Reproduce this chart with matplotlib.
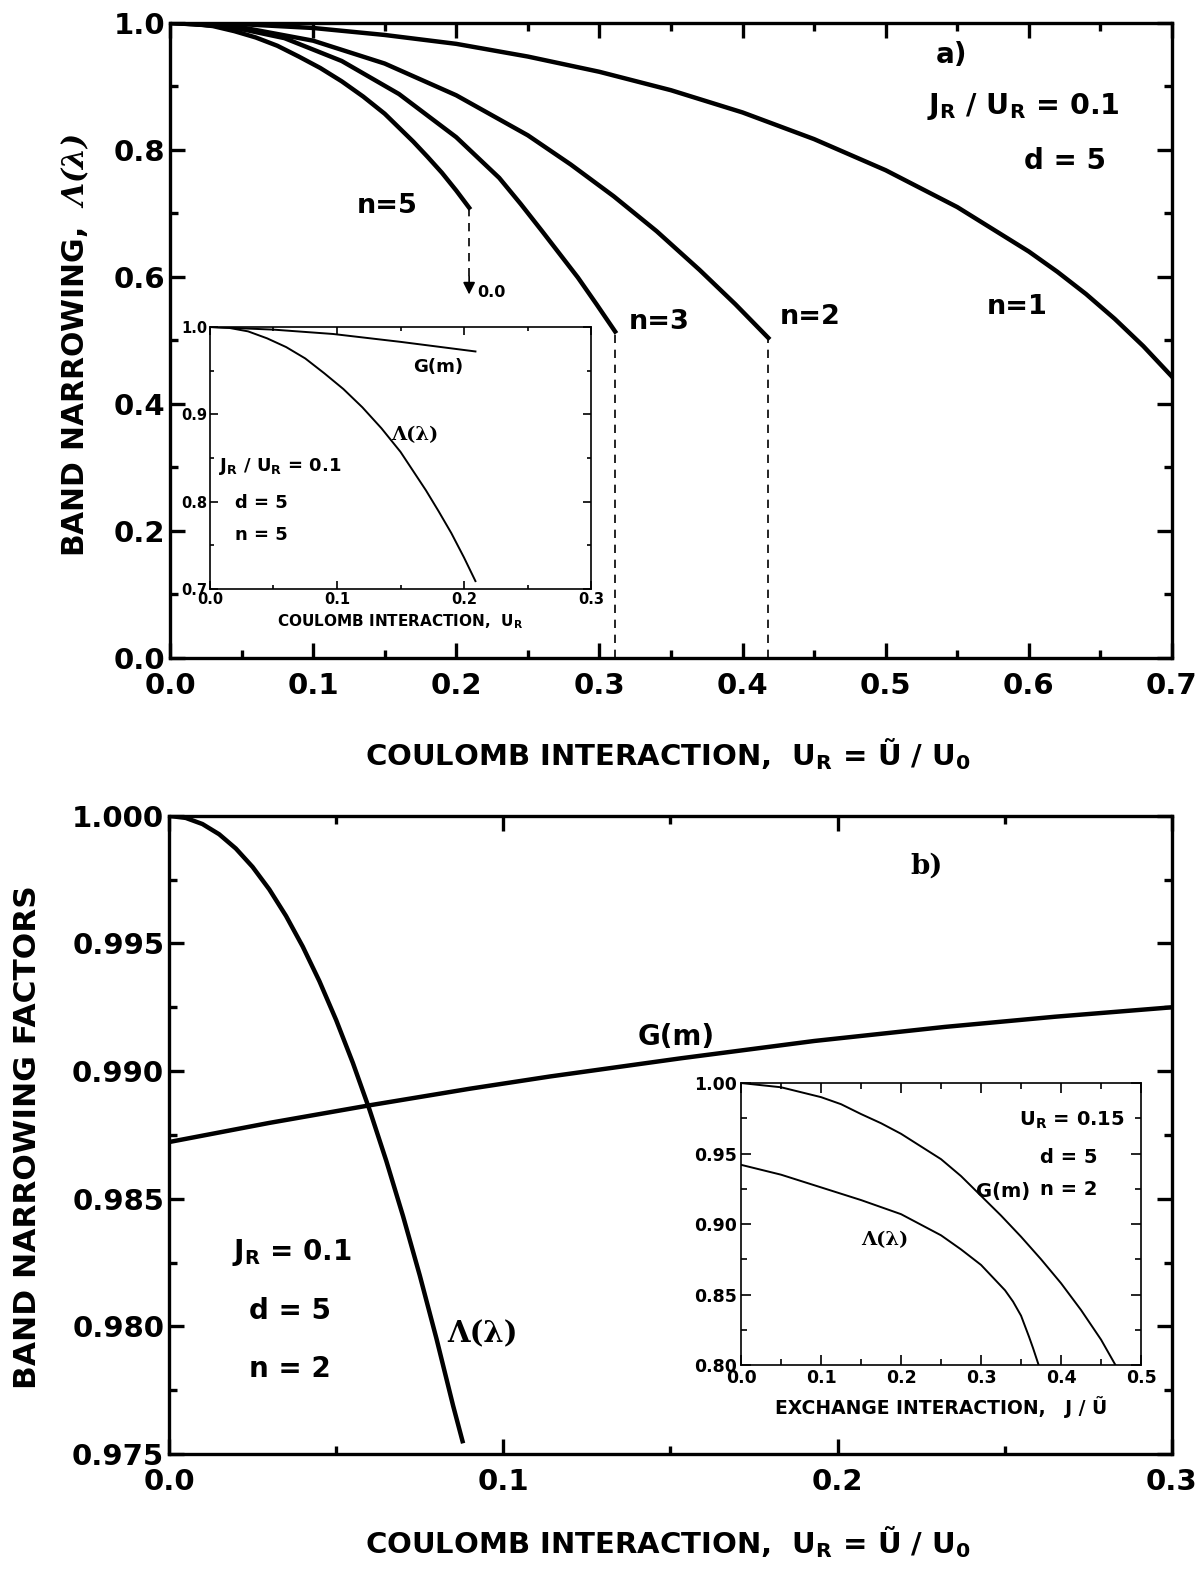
import matplotlib
matplotlib.use('Agg')
import matplotlib.pyplot as plt
from matplotlib.ticker import MultipleLocator, FormatStrFormatter

# ---- panel a) band narrowing vs U_R for several n ----
u_n1 = [0, 0.05, 0.1, 0.15, 0.2, 0.25, 0.3, 0.35, 0.4, 0.45, 0.5, 0.55, 0.6, 0.62, 0.64, 0.66, 0.68, 0.70]
lam_n1 = [1.0, 0.998, 0.992, 0.981, 0.967, 0.947, 0.923, 0.894, 0.859, 0.817, 0.768, 0.710, 0.640,
          0.608, 0.573, 0.534, 0.491, 0.443]
u_n2 = [0, 0.05, 0.1, 0.15, 0.2, 0.25, 0.28, 0.31, 0.34, 0.37, 0.395, 0.418]
lam_n2 = [1.0, 0.993, 0.972, 0.936, 0.886, 0.823, 0.777, 0.727, 0.672, 0.611, 0.557, 0.504]
u_n3 = [0, 0.04, 0.08, 0.12, 0.16, 0.2, 0.23, 0.245, 0.26, 0.285, 0.298, 0.311]
lam_n3 = [1.0, 0.995, 0.976, 0.940, 0.888, 0.820, 0.756, 0.715, 0.672, 0.599, 0.557, 0.514]
u_n5 = [0, 0.015, 0.03, 0.045, 0.06, 0.075, 0.09, 0.105, 0.12, 0.135, 0.15, 0.16, 0.17, 0.18,
        0.19, 0.20, 0.209]
lam_n5 = [1.0, 0.999, 0.995, 0.987, 0.977, 0.964, 0.947, 0.929, 0.908, 0.884, 0.857, 0.835, 0.813,
          0.789, 0.764, 0.736, 0.709]

# inset a): n = 5
u_ins_a = [0, 0.05, 0.097, 0.15, 0.209]
g_ins_a = [1.0, 0.997, 0.992, 0.983, 0.972]

# ---- panel b) narrowing factors, n = 2 ----
u_lam_b = [0, 0.005, 0.01, 0.015, 0.02, 0.025, 0.03, 0.035, 0.04, 0.045, 0.05, 0.055, 0.06,
           0.065, 0.07, 0.075, 0.08, 0.085, 0.0878]
lam_b = [1.0, 0.99992, 0.99968, 0.99928, 0.99872, 0.99800, 0.99712, 0.99608, 0.99488, 0.99352,
         0.99200, 0.99032, 0.98848, 0.98648, 0.98432, 0.98200, 0.97952, 0.97688, 0.97550]
u_g_b = [0, 0.03, 0.06, 0.09, 0.114, 0.153, 0.193, 0.232, 0.265, 0.3]
g_b = [0.98722, 0.98797, 0.98866, 0.98931, 0.98979, 0.99050, 0.99118, 0.99173, 0.99213, 0.99250]

# inset b): vs exchange J/U~
j_lam = [0, 0.05, 0.1, 0.15, 0.2, 0.25, 0.275, 0.3, 0.315, 0.33, 0.34, 0.35, 0.36, 0.365, 0.372]
lam_j = [0.942, 0.935, 0.926, 0.917, 0.907, 0.892, 0.882, 0.871, 0.862, 0.853, 0.845, 0.835,
         0.820, 0.812, 0.80]
j_g = [0, 0.05, 0.1, 0.125, 0.15, 0.175, 0.2, 0.225, 0.25, 0.275, 0.3, 0.325, 0.35, 0.375,
       0.4, 0.425, 0.45, 0.468]
g_j = [1.0, 0.997, 0.990, 0.985, 0.978, 0.9715, 0.964, 0.955, 0.946, 0.934, 0.920, 0.906, 0.891,
       0.875, 0.858, 0.839, 0.818, 0.80]

plt.rcParams['font.family'] = ['DejaVu Sans']
plt.rcParams['font.weight'] = 'bold'
plt.rcParams['axes.labelweight'] = 'bold'
plt.rcParams['mathtext.fontset'] = 'custom'
plt.rcParams['mathtext.rm'] = 'DejaVu Sans:bold'
plt.rcParams['mathtext.bf'] = 'DejaVu Sans:bold'
plt.rcParams['mathtext.it'] = 'DejaVu Sans:bold'
plt.rcParams['mathtext.sf'] = 'DejaVu Serif:italic'

SERIF = ['DejaVu Serif']


def style(ax, lw, size, maj, mino):
    for s in ax.spines.values():
        s.set_linewidth(lw)
    ax.tick_params(which='both', direction='in', top=True, right=True, width=lw, labelsize=size)
    ax.tick_params(which='major', length=maj)
    ax.tick_params(which='minor', length=mino)


fig = plt.figure(figsize=(12.02, 15.79), dpi=100)

# ---------------- panel a ----------------
ax = fig.add_axes([0.1414, 0.5833, 0.8336, 0.4022])
for u, v in [(u_n1, lam_n1), (u_n2, lam_n2), (u_n3, lam_n3), (u_n5, lam_n5)]:
    ax.plot(u, v, color='k', lw=3.2, solid_joinstyle='round')
for u, v in [(u_n2, lam_n2), (u_n3, lam_n3)]:
    ax.plot([u[-1], u[-1]], [0, v[-1]], color='k', lw=1.2, dashes=(5, 4))
ax.plot([u_n5[-1], u_n5[-1]], [lam_n5[-1], 0.60], color='k', lw=1.2, dashes=(5, 4))
ax.annotate('', xy=(u_n5[-1], 0.568), xytext=(u_n5[-1], 0.605),
            arrowprops=dict(arrowstyle='-|>', color='k', lw=1.2, mutation_scale=18))
ax.text(u_n5[-1] + 0.006, 0.575, '0.0', fontsize=11.5, va='center', ha='left')
ax.set_xlim(0, 0.7)
ax.set_ylim(0, 1.0)
ax.xaxis.set_major_locator(MultipleLocator(0.1))
ax.xaxis.set_minor_locator(MultipleLocator(0.05))
ax.yaxis.set_major_locator(MultipleLocator(0.2))
ax.yaxis.set_minor_locator(MultipleLocator(0.1))
style(ax, 2.4, 21, 11, 6)
ax.tick_params(axis='x', pad=10)

ax.text(0.546, 0.95, 'a)', fontsize=20, ha='center', va='center')
ax.text(0.596, 0.869, r'$\mathrm{J_R}$ / $\mathrm{U_R}$ = 0.1', fontsize=20.5, ha='center', va='center')
ax.text(0.625, 0.783, 'd = 5', fontsize=20, ha='center', va='center')
ax.text(0.152, 0.711, 'n=5', fontsize=19.5, ha='center', va='center')
ax.text(0.342, 0.529, 'n=3', fontsize=19.5, ha='center', va='center')
ax.text(0.4476, 0.537, 'n=2', fontsize=19.5, ha='center', va='center')
ax.text(0.592, 0.553, 'n=1', fontsize=19.5, ha='center', va='center')

fig.text(0.063, 1 - 345 / 1579, r'BAND NARROWING,  $\mathsf{\Lambda(\lambda)}$', fontsize=21.5,
         rotation=90, ha='center', va='center')
fig.text(668 / 1202, 1 - 754 / 1579, r'COULOMB INTERACTION,  $\mathrm{U_R}$ = Ũ / $\mathrm{U_0}$',
         fontsize=21, ha='center', va='center')

# inset a
axi = fig.add_axes([0.1747, 0.6270, 0.3170, 0.1659])
axi.plot(u_ins_a, g_ins_a, color='k', lw=1.4)
axi.plot(u_n5, lam_n5, color='k', lw=1.4)
axi.set_xlim(0, 0.3)
axi.set_ylim(0.7, 1.0)
axi.xaxis.set_major_locator(MultipleLocator(0.1))
axi.xaxis.set_minor_locator(MultipleLocator(0.05))
axi.yaxis.set_major_locator(MultipleLocator(0.1))
axi.yaxis.set_minor_locator(MultipleLocator(0.05))
style(axi, 1.2, 10.5, 6, 3)
axi.tick_params(pad=2)
axi.set_xlabel(r'COULOMB INTERACTION,  $\mathrm{U_R}$', fontsize=11, labelpad=4)
axi.text(0.1798, 0.9545, 'G(m)', fontsize=13, ha='center', va='center')
axi.text(0.1614, 0.8763, 'Λ(λ)', fontsize=14, ha='center', va='center', family=SERIF)
axi.text(0.0551, 0.840, r'$\mathrm{J_R}$ / $\mathrm{U_R}$ = 0.1', fontsize=13, ha='center', va='center')
axi.text(0.0407, 0.798, 'd = 5', fontsize=13, ha='center', va='center')
axi.text(0.0407, 0.762, 'n = 5', fontsize=13, ha='center', va='center')

# ---------------- panel b ----------------
bx = fig.add_axes([0.1406, 0.0792, 0.8344, 0.4041])
bx.plot(u_lam_b, lam_b, color='k', lw=3.2, solid_joinstyle='round')
bx.plot(u_g_b, g_b, color='k', lw=3.2, solid_joinstyle='round')
bx.set_xlim(0, 0.3)
bx.set_ylim(0.975, 1.0)
bx.xaxis.set_major_locator(MultipleLocator(0.1))
bx.xaxis.set_minor_locator(MultipleLocator(0.05))
bx.yaxis.set_major_locator(MultipleLocator(0.005))
bx.yaxis.set_minor_locator(MultipleLocator(0.0025))
bx.yaxis.set_major_formatter(FormatStrFormatter('%.3f'))
style(bx, 2.4, 21, 11, 6)
bx.tick_params(axis='x', pad=10)

bx.text(0.2265, 0.99804, 'b)', fontsize=20, ha='center', va='center', family=SERIF)
bx.text(0.1518, 0.99134, 'G(m)', fontsize=20, ha='center', va='center')
bx.text(0.0368, 0.98288, r'$\mathrm{J_R}$ = 0.1', fontsize=20, ha='center', va='center')
bx.text(0.0362, 0.98060, 'd = 5', fontsize=20, ha='center', va='center')
bx.text(0.0362, 0.97833, 'n = 2', fontsize=20, ha='center', va='center')
bx.text(0.0939, 0.97970, 'Λ(λ)', fontsize=21, ha='center', va='center', family=SERIF)

fig.text(0.023, 1 - 1137 / 1579, 'BAND NARROWING FACTORS', fontsize=22.5,
         rotation=90, ha='center', va='center')
fig.text(668 / 1202, 1 - 1542 / 1579, r'COULOMB INTERACTION,  $\mathrm{U_R}$ = Ũ / $\mathrm{U_0}$',
         fontsize=21, ha='center', va='center')

# inset b
bxi = fig.add_axes([0.6165, 0.1355, 0.3328, 0.1786])
bxi.plot(j_g, g_j, color='k', lw=1.4)
bxi.plot(j_lam, lam_j, color='k', lw=1.4)
bxi.set_xlim(0, 0.5)
bxi.set_ylim(0.80, 1.0)
bxi.xaxis.set_major_locator(MultipleLocator(0.1))
bxi.xaxis.set_minor_locator(MultipleLocator(0.05))
bxi.yaxis.set_major_locator(MultipleLocator(0.05))
bxi.yaxis.set_minor_locator(MultipleLocator(0.025))
bxi.yaxis.set_major_formatter(FormatStrFormatter('%.2f'))
style(bxi, 1.2, 12.5, 7, 4)
bxi.tick_params(pad=3)
bxi.set_xlabel('EXCHANGE INTERACTION,   J / Ũ', fontsize=13.5, labelpad=6)
bxi.text(0.4135, 0.9733, r'$\mathrm{U_R}$ = 0.15', fontsize=14, ha='center', va='center')
bxi.text(0.409, 0.947, 'd = 5', fontsize=14, ha='center', va='center')
bxi.text(0.409, 0.9244, 'n = 2', fontsize=14, ha='center', va='center')
bxi.text(0.328, 0.9232, 'G(m)', fontsize=14, ha='center', va='center')
bxi.text(0.1796, 0.8887, 'Λ(λ)', fontsize=14, ha='center', va='center', family=SERIF)

fig.savefig('out.png', dpi=100)
